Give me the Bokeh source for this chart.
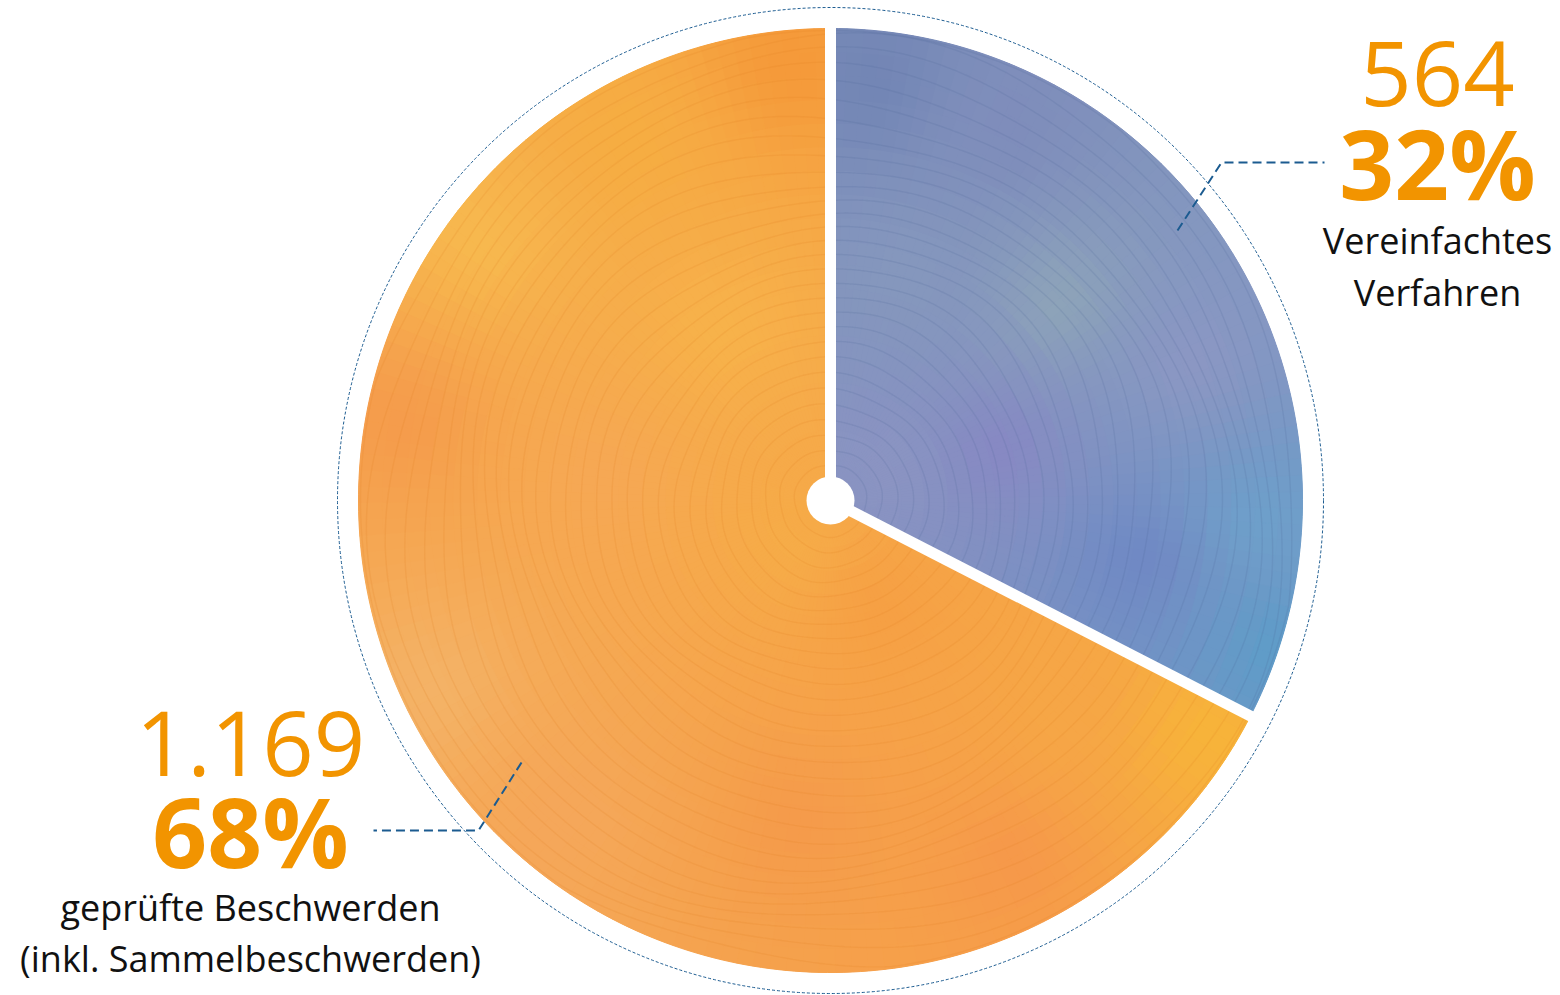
import numpy as np
from bokeh.plotting import figure
from bokeh.models import ColumnDataSource, Range1d
from bokeh.core.properties import value
from bokeh.embed import file_html
from bokeh.resources import INLINE

# --- data -------------------------------------------------------------
categories = ["Vereinfachtes Verfahren", "geprüfte Beschwerden (inkl. Sammelbeschwerden)"]
counts = [564, 1169]
count_labels = ["564", "1.169"]
percent_labels = ["32%", "68%"]
name_lines = [["Vereinfachtes", "Verfahren"], ["geprüfte Beschwerden", "(inkl. Sammelbeschwerden)"]]

# --- layout / style -----------------------------------------------------
W, H = 1560, 995
CX, CY = 830, H - 500          # pie centre (y axis points up)
R = 472                        # pie radius
R_RING = 493                   # dashed guide circle
ORANGE = "#f29400"
LEADER = "#1b5b90"
FONT = "Open Sans"

# colour anchors for the soft gradients of each slice (screen px, colour)
blue_anchors = [
    ((870, 80), "#7386b5"), ((1010, 130), "#7f8dbb"), ((900, 280), "#8597bd"),
    ((1060, 300), "#8da3b9"), ((1000, 450), "#8789c3"), ((1190, 360), "#8b97c3"),
    ((1140, 560), "#7089c4"), ((1260, 520), "#6e9fca"), ((1280, 650), "#5f9cc8"),
    ((880, 470), "#8b94c2"),
]
orange_anchors = [
    ((790, 60), "#f59a3a"), ((630, 140), "#f6ad42"), ((480, 240), "#f7b84e"),
    ((720, 330), "#f7b24a"), ((400, 420), "#f59c4c"), ((600, 480), "#f6a854"),
    ((430, 690), "#f4b266"), ((560, 820), "#f5a75a"), ((800, 820), "#f59b4b"),
    ((1010, 860), "#f6994a"), ((1060, 700), "#f6a646"), ((1210, 735), "#f7b33a"),
    ((880, 610), "#f6a044"), ((790, 540), "#f6ac48"),
]


def hex2rgb(h):
    h = h.lstrip("#")
    return np.array([int(h[i:i + 2], 16) for i in (0, 2, 4)], dtype=float)


def field(px, py, anchors):
    pts = np.array([a[0] for a in anchors], dtype=float)
    cols = np.array([hex2rgb(a[1]) for a in anchors])
    d2 = (pts[:, 0] - px) ** 2 + (pts[:, 1] - py) ** 2 + 1.0
    w = 1.0 / d2
    c = (w[:, None] * cols).sum(0) / w.sum()
    return "#%02x%02x%02x" % tuple(int(round(v)) for v in np.clip(c, 0, 255))


# slice angles: start at 12 o'clock, run clockwise
total = float(sum(counts))
fracs = [c / total for c in counts]
top = np.pi / 2
b_start, b_end = top - 2 * np.pi * fracs[0], top            # first slice
o_start, o_end = top, top + 2 * np.pi * fracs[1]            # second slice
slices = [(b_start, b_end, blue_anchors), (o_start, o_end, orange_anchors)]

p = figure(width=W, height=H, x_range=Range1d(0, W), y_range=Range1d(0, H),
           output_backend="svg", toolbar_location=None,
           x_axis_type=None, y_axis_type=None, min_border=0)
p.grid.visible = False
p.outline_line_color = None
p.background_fill_color = "white"
p.border_fill_color = "white"

# base wedges straight from the data
src = ColumnDataSource(dict(
    cat=categories,
    start=[b_start, o_start],
    end=[b_end, o_end],
    color=["#8092c0", "#f5a44a"],
))
p.wedge(x=CX, y=CY, radius=R, start_angle="start", end_angle="end",
        fill_color="color", line_color=None, source=src)

# gradient shading: small annular cells inside each slice
for a0, a1, anchors in slices:
    n_ang = max(8, int(np.degrees(a1 - a0) / 2.0))
    n_rad = 20
    edges_a = np.linspace(a0, a1, n_ang + 1)
    edges_r = np.linspace(0, R, n_rad + 1)
    ir, orr, sa, ea, cl = [], [], [], [], []
    for i in range(n_ang):
        for j in range(n_rad):
            am = 0.5 * (edges_a[i] + edges_a[i + 1])
            rm = 0.5 * (edges_r[j] + edges_r[j + 1])
            px = CX + rm * np.cos(am)
            py = (H - CY) - rm * np.sin(am)
            ir.append(edges_r[j]); orr.append(edges_r[j + 1])
            sa.append(edges_a[i]); ea.append(edges_a[i + 1])
            cl.append(field(px, py, anchors))
    cs = ColumnDataSource(dict(ir=ir, orr=orr, sa=sa, ea=ea, c=cl))
    p.annular_wedge(x=CX, y=CY, inner_radius="ir", outer_radius="orr",
                    start_angle="sa", end_angle="ea", fill_color="c",
                    line_color="c", line_width=1, source=cs)

# flowing contour strokes over each slice (waviness grows outward)
stroke_cols = ["#4d6296", "#e07a22"]
for (a0, a1, _), sc in zip(slices, stroke_cols):
    th = np.linspace(a0 + 0.004, a1 - 0.004, 300)
    mx, my = [], []
    for k in range(30):
        rb = 36 + k * 15
        amp = rb / R
        r = rb + amp * (10 * np.sin(3 * th + 0.35 * k) + 4 * np.sin(7 * th + 0.6 * k))
        r = np.clip(r, 0, R - 2)
        mx.append(list(CX + r * np.cos(th)))
        my.append(list(CY + r * np.sin(th)))
    p.multi_line(xs=mx, ys=my, line_color=sc, line_alpha=0.16, line_width=1.4)

# white separators and hub
for ang in (b_start, top):
    p.line(x=[CX, CX + (R + 4) * np.cos(ang)], y=[CY, CY + (R + 4) * np.sin(ang)],
           line_color="white", line_width=11)
p.circle(x=[CX], y=[CY], radius=24, fill_color="white", line_color=None)

# dashed guide circle
p.circle(x=[CX], y=[CY], radius=R_RING, fill_color=None,
         line_color=LEADER, line_width=1, line_dash="3 2")

# leader lines
p.line(x=[1177, 1221, 1324], y=[H - 230, H - 162, H - 162],
       line_color=LEADER, line_width=2, line_dash="9 5")
p.line(x=[521, 478, 373], y=[H - 762, H - 830, H - 830],
       line_color=LEADER, line_width=2, line_dash="9 5")

# labels (baselines in screen px; glyph baseline sits ~0.38 em below anchor)
label_x = [1437, 250]
count_base = [107, 777]
pct_base = [198, 866]
name_base = [[254, 306], [921, 972]]
SHIFT = 0.38


def ypos(base, size):
    return H - base + SHIFT * size


p.text(x=label_x, y=[ypos(b, 90) for b in count_base], text=count_labels,
       text_font=value(FONT), text_font_size="90px", text_color=ORANGE,
       text_align="center", text_baseline="alphabetic")
p.text(x=label_x, y=[ypos(b, 96) for b in pct_base], text=percent_labels,
       text_font=value(FONT), text_font_size="96px", text_font_style="bold",
       text_color=ORANGE, text_align="center", text_baseline="alphabetic")
nx, ny, nt = [], [], []
for lx, lines, bases in zip(label_x, name_lines, name_base):
    for t, b in zip(lines, bases):
        nx.append(lx); ny.append(ypos(b, 36)); nt.append(t)
p.text(x=nx, y=ny, text=nt, text_font=value(FONT), text_font_size="36px",
       text_color="#111111", text_align="center", text_baseline="alphabetic")

open("out.html", "w").write(file_html(p, INLINE))
